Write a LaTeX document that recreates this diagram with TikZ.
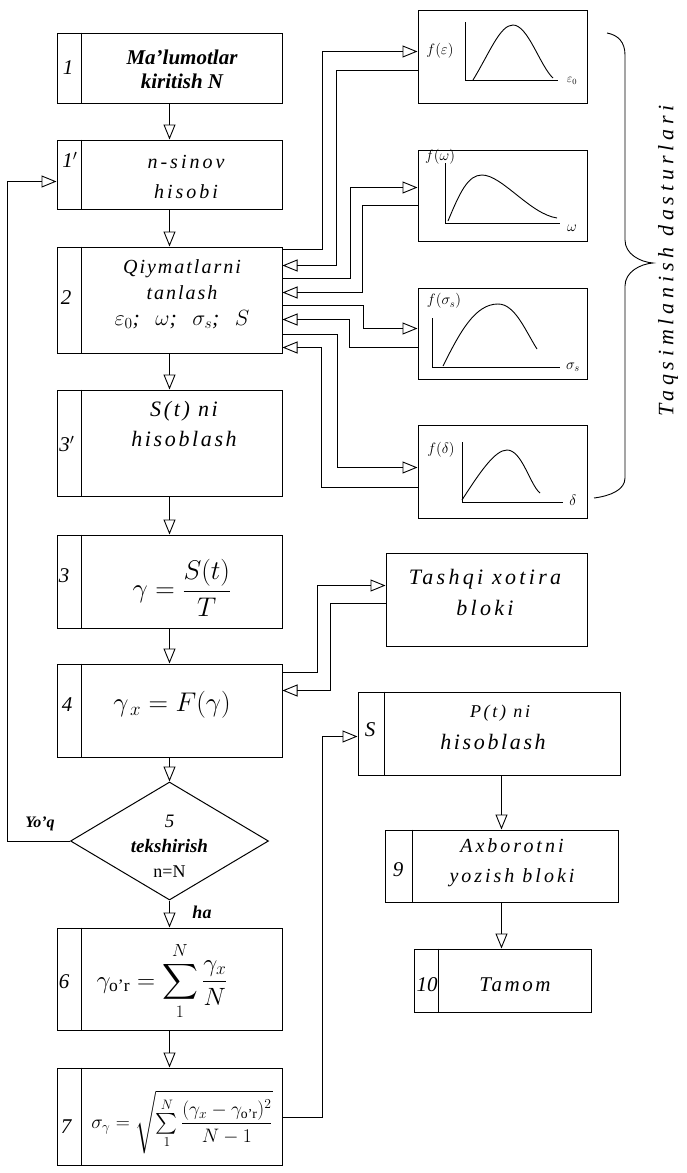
\RequirePackage{fix-cm}
\documentclass[tikz,border=0pt]{standalone}
\usepackage{amsmath}
\usepackage{fontspec}
\setmainfont{Liberation Serif}
\usetikzlibrary{arrows.meta,shapes.geometric,calc}
\tikzset{
  box/.style={draw, line width=1pt, rectangle, inner sep=0pt},
  flow/.style={line width=0.9pt, -{Triangle[open, length=15pt, width=12pt, line width=0.9pt]}},
  wire/.style={line width=0.9pt},
  divl/.style={line width=0.9pt},
  num/.style={font=\itshape\fontsize{21}{24}\selectfont, inner sep=0pt},
  txt/.style={align=center, inner sep=0pt},
  gl/.style={inner sep=0pt, font=\fontsize{15}{16}\selectfont},
  curve/.style={line width=0.9pt},
}
\begin{document}
\begin{tikzpicture}[x=1pt,y=-1pt]
\useasboundingbox (0,0) rectangle (687,1173);

% ---------- main column boxes ----------
\node[box, minimum width=225pt, minimum height=70pt]  (b1)  at (169.5,68) {};
\node[box, minimum width=225pt, minimum height=69pt]  (b1p) at (169.5,174.5) {};
\node[box, minimum width=225pt, minimum height=106pt] (b2)  at (169.5,300) {};
\node[box, minimum width=225pt, minimum height=106pt] (b3p) at (169.5,443) {};
\node[box, minimum width=225pt, minimum height=93pt]  (b3)  at (169.5,581.5) {};
\node[box, minimum width=225pt, minimum height=93pt]  (b4)  at (169.5,710.5) {};
\node[draw, diamond, line width=1pt, minimum width=198pt, minimum height=118pt, inner sep=0pt] (d5) at (169.5,841) {};
\node[box, minimum width=225pt, minimum height=102pt] (b6)  at (169.5,979) {};
\node[box, minimum width=225pt, minimum height=97pt]  (b7)  at (169.5,1116.5) {};

% ---------- right side boxes ----------
\node[box, minimum width=169pt, minimum height=93pt] (g1) at (502.5,56.5) {};
\node[box, minimum width=169pt, minimum height=91pt] (g2) at (502.5,195.5) {};
\node[box, minimum width=169pt, minimum height=91pt] (g3) at (502.5,333.5) {};
\node[box, minimum width=169pt, minimum height=93pt] (g4) at (502.5,471.5) {};
\node[box, minimum width=201pt, minimum height=93pt] (tx) at (486.5,599.5) {};
\node[box, minimum width=262pt, minimum height=83pt] (b8) at (489,733.5) {};
\node[box, minimum width=233pt, minimum height=72pt] (b9) at (501.5,866) {};
\node[box, minimum width=177pt, minimum height=63pt] (b10) at (502.5,980.5) {};

% ---------- number columns ----------
\foreach \n in {b1,b1p,b2,b3p,b3,b4,b6,b7,b10}
  \draw[divl] ($(\n.north west)+(25,0)$) -- ($(\n.south west)+(25,0)$);
\draw[divl] ($(b8.north west)+(27,0)$) -- ($(b8.south west)+(27,0)$);
\draw[divl] ($(b9.north west)+(28,0)$) -- ($(b9.south west)+(28,0)$);

\node[num] (n1)  at (68,68) {1};
\node[num] (n1p) at (70,160) {1$'$};
\node[num] (n2)  at (66,298) {2};
\node[num] (n3p) at (67,444) {3$'$};
\node[num] (n3)  at (64,576) {3};
\node[num] (n4)  at (67,705) {4};
\node[num] (n6)  at (64,982) {6};
\node[num] (n7)  at (66,1127) {7};
\node[num] (n8)  at (370,730) {S};
\node[num] (n9)  at (398,870) {9};
\node[num] (n10) at (427,985) {10};

% ---------- texts ----------
\node[txt, font=\bfseries\itshape\fontsize{21}{24}\selectfont] (t1) at (182,69) {Ma'lumotlar\\kiritish N};
\node[txt, font=\itshape\fontsize{20}{30}\selectfont\addfontfeatures{LetterSpace=15}] (t1p) at (186,177) {n-sinov\\hisobi};
\node[txt, font=\itshape\fontsize{20}{26}\selectfont\addfontfeatures{LetterSpace=10}] (t2) at (182,294)
  {Qiymatlarni\\tanlash\\{\fontsize{22}{26}\selectfont$\varepsilon_0$;\ \ $\omega$;\ \ $\sigma_s$;\ \ $S$}};
\node[txt, font=\itshape\fontsize{22}{30}\selectfont\addfontfeatures{LetterSpace=12}] (t3p) at (184,424) {S(t) ni\\hisoblash};
\node[txt, font=\fontsize{27}{30}\selectfont] (t3) at (182,588) {$\gamma=\dfrac{S(t)}{T}$};
\node[txt, font=\fontsize{27}{30}\selectfont] (t4) at (172,705) {$\gamma_{\,x}=F(\gamma)$};
\node[txt, font=\bfseries\itshape\fontsize{19}{25}\selectfont] (t5) at (169.5,846)
  {{\mdseries 5}\\tekshirish\\{\normalfont\fontsize{18}{25}\selectfont n=N}};
\node[txt, font=\fontsize{25}{28}\selectfont] (t6) at (162,981) {$\gamma_{\text{o'r}}=\displaystyle\sum_{1}^{N}\frac{\gamma_x}{N}$};
\node[txt, font=\fontsize{19.5}{22}\selectfont] (t7) at (182,1122) {$\sigma_\gamma=\sqrt{\sum\limits_{1}^{N}\dfrac{(\gamma_x-\gamma_{\text{o'r}})^2}{N-1}}$};
\node[txt, font=\itshape\fontsize{22}{31}\selectfont\addfontfeatures{LetterSpace=15}] (ttx) at (485,592) {Tashqi xotira\\bloki};
\node[txt, font=\itshape\fontsize{18}{20}\selectfont\addfontfeatures{LetterSpace=15}] (t8a) at (500,713) {P(t) ni};
\node[txt, font=\itshape\fontsize{22}{26}\selectfont\addfontfeatures{LetterSpace=12}] (t8b) at (493,742) {hisoblash};
\node[txt, font=\itshape\fontsize{20}{30}\selectfont\addfontfeatures{LetterSpace=15}] (t9) at (512,863) {Axborotni\\yozish bloki};
\node[txt, font=\itshape\fontsize{21}{24}\selectfont\addfontfeatures{LetterSpace=12}] (t10) at (515,985) {Tamom};
\node[inner sep=0pt, font=\bfseries\itshape\fontsize{16}{18}\selectfont] (yoq) at (40,824) {Yo'q};
\node[inner sep=0pt, font=\bfseries\itshape\fontsize{18}{20}\selectfont] (ha) at (202,912) {ha};

% ---------- main flow ----------
\draw[flow] (b1.south) -- (b1p.north);
\draw[flow] (b1p.south) -- (b2.north);
\draw[flow] (b2.south) -- (b3p.north);
\draw[flow] (b3p.south) -- (b3.north);
\draw[flow] (b3.south) -- (b4.north);
\draw[flow] (b4.south) -- (d5.north);
\draw[flow] (d5.south) -- (b6.north);
\draw[flow] (b6.south) -- (b7.north);
\draw[flow] (d5.west) -- ++(-62.5,0) |- ($(b1p.north west)+(0,42)$);

% ---------- block 2 <-> distributions ----------
\draw[flow] ($(b2.north east)+(0,3)$)   -- ++(40,0)  |- ($(g1.north west)+(0,42)$);
\draw[flow] ($(g1.north west)+(0,61)$)  -- ++(-81,0) |- ($(b2.north east)+(0,19)$);
\draw[flow] ($(b2.north east)+(0,32)$)  -- ++(68,0)  |- ($(g2.north west)+(0,38)$);
\draw[flow] ($(g2.north west)+(0,56)$)  -- ++(-55,0) |- ($(b2.north east)+(0,46)$);
\draw[flow] ($(b2.north east)+(0,59)$)  -- ++(81,0)  |- ($(g3.north west)+(0,41)$);
\draw[flow] ($(g3.north west)+(0,60)$)  -- ++(-68,0) |- ($(b2.north east)+(0,73)$);
\draw[flow] ($(b2.north east)+(0,88)$)  -- ++(55,0)  |- ($(g4.north west)+(0,43)$);
\draw[flow] ($(g4.north west)+(0,63)$)  -- ++(-96,0) |- ($(b2.north east)+(0,101)$);

% ---------- block 4 <-> external memory ----------
\draw[flow] ($(b4.north east)+(0,9)$)  -- ++(35,0)  |- ($(tx.north west)+(0,33)$);
\draw[flow] ($(tx.north west)+(0,51)$) -- ++(-55,0) |- ($(b4.north east)+(0,27)$);

% ---------- block 7 -> 8 -> 9 -> 10 ----------
\draw[flow] ($(b7.north east)+(0,50)$) -- ++(40,0) |- ($(b8.north west)+(0,45)$);
\draw[flow] (b9.north |- b8.south) -- (b9.north);
\draw[flow] (b9.south) -- (b9.south |- b10.north);

% ---------- graphs ----------
% g1
\draw[wire] (465,22) -- (465,80) -- (558,80);
\draw[curve] (473,80) .. controls (490,52) and (500,25) .. (513,25) .. controls (528,25) and (540,66) .. (553,78);
\node[gl] (l1a) at (440,51) {$f(\varepsilon)$};
\node[gl, font=\fontsize{12}{13}\selectfont] (l1b) at (572,81) {$\varepsilon_0$};
% g2
\draw[wire] (445,163) -- (445,223) -- (560,223);
\draw[curve] (448,221) .. controls (460,192) and (468,175) .. (482,175) .. controls (502,175) and (530,214) .. (557,218);
\node[gl] (l2a) at (440,157) {$f(\omega)$};
\node[gl] (l2b) at (572,228) {$\omega$};
% g3
\draw[wire] (432,318) -- (432,367) -- (560,367);
\draw[curve] (443,366) .. controls (460,332) and (475,304) .. (498,304) .. controls (515,304) and (525,330) .. (537,349);
\node[gl] (l3a) at (444,301) {$f(\sigma_s)$};
\node[gl] (l3b) at (573,367) {$\sigma_s$};
% g4
\draw[wire] (462,442) -- (462,502) -- (563,502);
\draw[curve] (462,500) .. controls (480,472) and (495,450) .. (507,450) .. controls (522,450) and (530,485) .. (540,493);
\node[gl] (l4a) at (441,450) {$f(\delta)$};
\node[gl] (l4b) at (573,500) {$\delta$};

% ---------- brace and label ----------
\draw[line width=0.9pt] (607,33) .. controls (618,35) and (625,42) .. (625,55) -- (625,240)
  .. controls (625,254) and (640,262) .. (653,263) .. controls (640,264) and (625,272) .. (625,286)
  -- (625,478) .. controls (625,490) and (610,496) .. (594,498);
\node[rotate=90, inner sep=0pt, font=\itshape\fontsize{22}{24}\selectfont\addfontfeatures{LetterSpace=22}] (lbl) at (668,261) {Taqsimlanish dasturlari};
\end{tikzpicture}
\end{document}
